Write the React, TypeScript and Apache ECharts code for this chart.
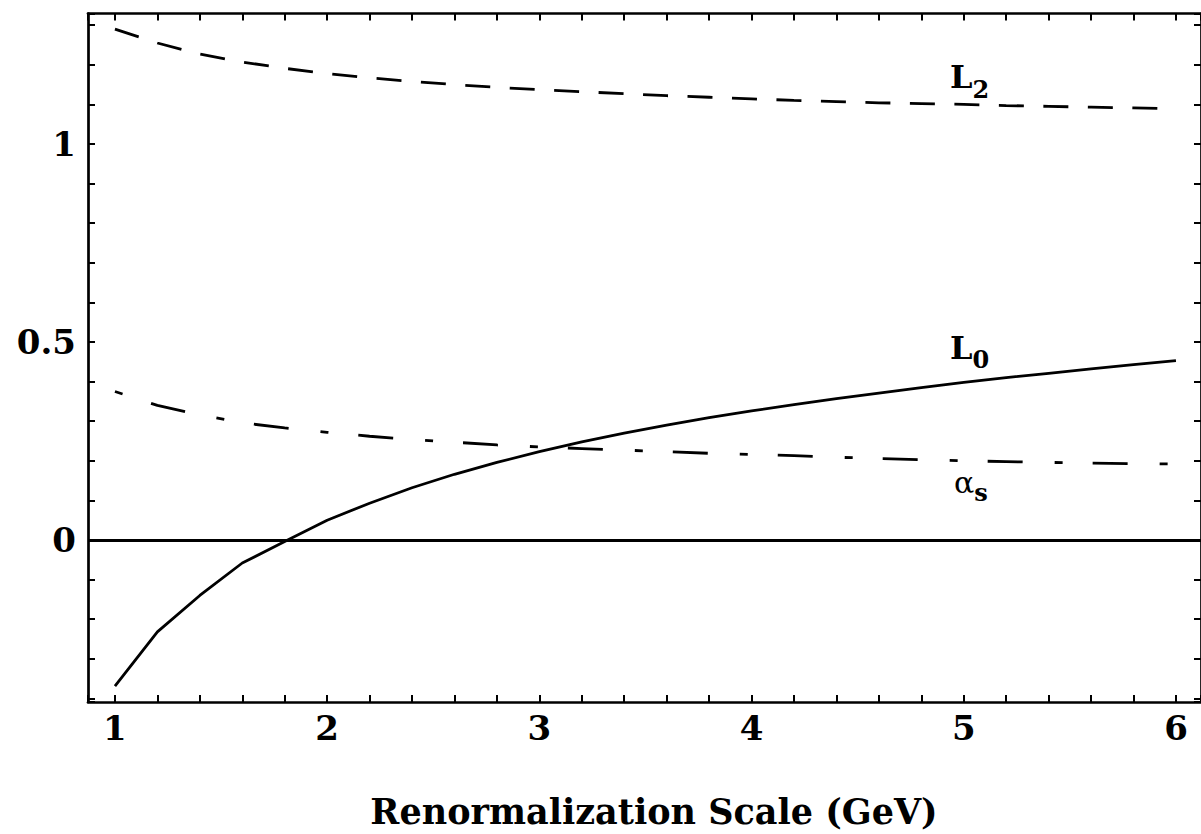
import React, { useEffect, useRef } from "react";
import * as echarts from "echarts";

// Renormalization scale (GeV)
const scale = [1.0, 1.2, 1.4, 1.6, 1.8, 2.0, 2.2, 2.4, 2.6, 2.8, 3.0, 3.2, 3.4, 3.6, 3.8, 4.0, 4.2, 4.4, 4.6, 4.8, 5.0, 5.2, 5.4, 5.6, 5.8, 6.0];
const L0 = [-0.369, -0.232, -0.140, -0.058, -0.004, 0.050, 0.093, 0.132, 0.166, 0.196, 0.223, 0.248, 0.270, 0.290, 0.309, 0.326, 0.342, 0.357, 0.371, 0.385, 0.398, 0.410, 0.421, 0.432, 0.443, 0.453];
const L2 = [1.290, 1.255, 1.227, 1.207, 1.191, 1.178, 1.167, 1.158, 1.150, 1.143, 1.137, 1.132, 1.127, 1.122, 1.118, 1.114, 1.110, 1.107, 1.104, 1.102, 1.100, 1.097, 1.095, 1.093, 1.091, 1.089];
const alphaS = [0.375, 0.340, 0.316, 0.296, 0.283, 0.272, 0.262, 0.254, 0.247, 0.240, 0.235, 0.231, 0.227, 0.223, 0.219, 0.216, 0.213, 0.209, 0.206, 0.203, 0.200, 0.198, 0.196, 0.194, 0.193, 0.192];

const xTickLabels = [1, 2, 3, 4, 5, 6];
const yTickLabels = [0, 0.5, 1];
const xTitle = "Renormalization Scale (GeV)";

const FONT = '"DejaVu Serif", "Liberation Serif", serif';

export default function App() {
  const ref = useRef<HTMLDivElement>(null);

  useEffect(() => {
    if (!ref.current) return;
    const chart = echarts.init(ref.current, undefined, { renderer: "svg" });

    const pair = (ys: number[]) => scale.map((x, i) => [x, ys[i]]);

    const axisLine = { show: true, onZero: false, lineStyle: { color: "#000", width: 2.7 } };
    const tick = { show: true, inside: true, length: 7, lineStyle: { color: "#000", width: 2 } };
    const minor = { show: true, splitNumber: 5, length: 7, lineStyle: { color: "#000", width: 2 } };

    const xFmt = (v: number) => (xTickLabels.some((t) => Math.abs(t - v) < 1e-6) ? String(Math.round(v)) : "");
    const yFmt = (v: number) => {
      const hit = yTickLabels.find((t) => Math.abs(t - v) < 1e-6);
      return hit === undefined ? "" : String(hit);
    };

    const xCommon = {
      type: "value",
      min: 0.873,
      max: 6.118,
      splitNumber: 5,
      axisLine,
      axisTick: tick,
      minorTick: minor,
      splitLine: { show: false },
      minorSplitLine: { show: false },
    };
    const yCommon = {
      type: "value",
      min: -0.409,
      max: 1.3295,
      splitNumber: 4,
      axisLine,
      axisTick: tick,
      minorTick: minor,
      splitLine: { show: false },
      minorSplitLine: { show: false },
    };

    // Curve label with subscript, as one rich text
    const subLabel = (
      base: string,
      sub: string,
      x: number,
      y: number,
      baseSize: number,
      baseBold: boolean,
      lineH: number
    ) => ({
      type: "text",
      x,
      y,
      silent: true,
      style: {
        text: `{b|${base}}{s|${sub}}{h| }`,
        fill: "#000",
        textAlign: "left",
        align: "left",
        textVerticalAlign: "top",
        verticalAlign: "top",
        rich: {
          b: {
            fontFamily: FONT,
            fontWeight: baseBold ? "bold" : "normal",
            fontSize: baseSize,
            lineHeight: baseSize,
            verticalAlign: "top",
            fill: "#000",
            color: "#000",
          },
          s: {
            fontFamily: FONT,
            fontWeight: "bold",
            fontSize: 24,
            lineHeight: 24,
            verticalAlign: "bottom",
            fill: "#000",
            color: "#000",
          },
          h: { fontSize: 1, lineHeight: lineH, verticalAlign: "top" },
        },
      },
    });

    chart.setOption({
      animation: false,
      backgroundColor: "#fff",
      grid: { left: 88, top: 13.5, right: -1, bottom: 132, containLabel: false },
      xAxis: [
        {
          ...xCommon,
          position: "bottom",
          axisLabel: {
            show: true,
            formatter: xFmt,
            color: "#000",
            fontFamily: FONT,
            fontWeight: "bold",
            fontSize: 34,
            margin: 9,
            showMinLabel: false,
            showMaxLabel: false,
          },
        },
        { ...xCommon, position: "top", axisLabel: { show: false } },
      ],
      yAxis: [
        {
          ...yCommon,
          position: "left",
          axisLabel: {
            show: true,
            formatter: yFmt,
            color: "#000",
            fontFamily: FONT,
            fontWeight: "bold",
            fontSize: 34,
            margin: 12,
            showMinLabel: false,
            showMaxLabel: false,
          },
        },
        { ...yCommon, position: "right", axisLabel: { show: false } },
      ],
      series: [
        {
          name: "L0",
          type: "line",
          xAxisIndex: 0,
          yAxisIndex: 0,
          data: pair(L0),
          showSymbol: false,
          symbol: "none",
          lineStyle: { color: "#000", width: 2.8, type: "solid" },
          markLine: {
            silent: true,
            symbol: "none",
            label: { show: false },
            lineStyle: { color: "#000", width: 2.8, type: "solid" },
            data: [{ yAxis: 0 }],
          },
        },
        {
          name: "L2",
          type: "line",
          xAxisIndex: 0,
          yAxisIndex: 0,
          data: pair(L2),
          showSymbol: false,
          symbol: "none",
          lineStyle: { color: "#000", width: 2.8, type: [25, 19.5], cap: "butt" },
        },
        {
          name: "alpha_s",
          type: "line",
          xAxisIndex: 0,
          yAxisIndex: 0,
          data: pair(alphaS),
          showSymbol: false,
          symbol: "none",
          lineStyle: { color: "#000", width: 2.8, type: [8, 30, 35, 32], cap: "butt" },
        },
      ],
      graphic: [
        subLabel("L", "2", 950, 60.5, 32, true, 40.5),
        subLabel("L", "0", 950, 331.5, 32, true, 40),
        subLabel("α", "s", 954, 467, 30, false, 37),
        {
          type: "text",
          x: 654,
          y: 811,
          silent: true,
          style: {
            text: xTitle,
            font: `bold 35px ${FONT}`,
            fill: "#000",
            textAlign: "center",
            align: "center",
            textVerticalAlign: "middle",
            verticalAlign: "middle",
          },
        },
      ],
    });

    return () => chart.dispose();
  }, []);

  return (
    <div
      ref={ref}
      style={{ position: "fixed", left: 0, top: 0, width: 1201, height: 834, background: "#fff" }}
    />
  );
}
